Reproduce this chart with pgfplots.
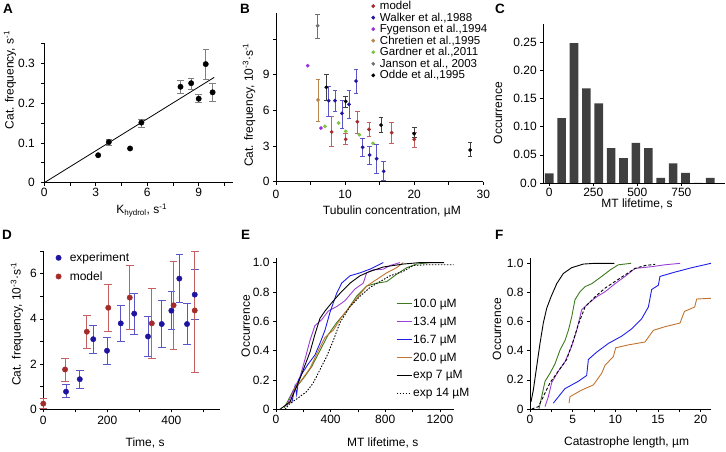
\documentclass[border=0pt]{standalone}
\usepackage{fontspec}
\setmainfont{Liberation Sans}
\usepackage{pgfplots}
\pgfplotsset{compat=1.18}
\definecolor{mred}{HTML}{A52A2A}
\definecolor{mrederr}{HTML}{C46060}
\definecolor{wblue}{HTML}{1F14A0}
\definecolor{wblueerr}{HTML}{5A55C8}
\definecolor{fpurple}{HTML}{9B30E0}
\definecolor{cbrown}{HTML}{B8864B}
\definecolor{ggreen}{HTML}{7DC242}
\definecolor{jgray}{HTML}{707070}
\definecolor{cbar}{HTML}{404040}
\definecolor{lgreen}{HTML}{3D7A1E}
\definecolor{lpurple}{HTML}{9A40D8}
\definecolor{lblue}{HTML}{1E1EE8}
\definecolor{lorange}{HTML}{C2732E}
\newcommand{\lf}{\fontsize{11.5}{12}\selectfont}
\begin{document}
\begin{tikzpicture}
\useasboundingbox (0pt,0pt) rectangle (726pt,452pt);
\pgfplotsset{
 every axis/.append style={
  scale only axis, anchor=south west, axis lines=left,
  axis line style={-,line width=0.6pt,black},
  tick align=outside, major tick length=3pt, minor tick length=3pt,
  tick style={black,line width=0.6pt},
  tick label style={font=\fontsize{12}{12}\selectfont},
  label style={font=\fontsize{12}{14}\selectfont},
  /pgf/number format/assume math mode=true,
  /pgf/number format/1000 sep={},
  clip=false,
  xlabel style={anchor=center}, ylabel style={anchor=center},
 },
}
% panel letters
\tikzset{plab/.style={anchor=base west,font=\bfseries\fontsize{13.5}{13.5}\selectfont,inner sep=0}}
\node[plab] at (3pt,438pt) {A};
\node[plab] at (240pt,438pt) {B};
\node[plab] at (495pt,438pt) {C};
\node[plab] at (2pt,212pt) {D};
\node[plab] at (241pt,212pt) {E};
\node[plab] at (495pt,212pt) {F};

% ---------------- A
\begin{axis}[at={(44.3pt,269.3pt)}, width=188.7pt, height=139.3pt,
 xmin=0, xmax=11, ymin=0, ymax=0.35,
 xtick={0,3,6,9}, minor xtick={1.5,4.5,7.5,10.5},
 ytick={0,0.1,0.2,0.3}, minor ytick={0.05,0.15,0.25,0.35},
 yticklabels={0,0.1,0.2,0.3},
 xticklabel style={inner sep=2.5pt},
 yticklabel style={xshift=-3pt},
 xlabel={K\textsubscript{hydrol}, s\textsuperscript{-1}},
 ylabel={Cat. frequency, s\textsuperscript{-1}},
 xlabel style={at={(axis description cs:0.516,-0.2)}},
 ylabel style={at={(axis description cs:-0.182,0.737)}}]
\addplot[black, line width=0.8pt] coordinates {(0,0) (9.9,0.2645)};
\addplot[only marks, mark=*, mark size=2.7pt, black,
 error bars/.cd, y dir=both, y explicit,
 error bar style={gray, line width=0.6pt},
 error mark options={rotate=90, mark size=3.2pt, gray, line width=0.6pt}]
 table[x=x,y=y,y error plus=ep,y error minus=em]{
x y ep em
3.76 0.102 0.008 0.008
5.66 0.151 0.009 0.011
7.94 0.241 0.017 0.017
8.56 0.250 0.013 0.015
9.00 0.211 0.010 0.010
9.41 0.298 0.038 0.039
9.81 0.227 0.023 0.023
};
\addplot[only marks, mark=*, mark size=2.7pt, black] coordinates {(3.14,0.069) (5.0,0.086)};
\end{axis}

% ---------------- B
\begin{axis}[at={(276pt,270.3pt)}, width=207.3pt, height=168.4pt,
 xmin=0, xmax=30, ymin=0, ymax=14.15,
 xtick={0,10,20,30}, minor xtick={5,15,25},
 ytick={0,3,6,9,12}, yticklabels={0,3,6,9,},
 xticklabel style={inner sep=5pt},
 xlabel={Tubulin concentration, µM},
 ylabel={Cat. frequency, 10\textsuperscript{-3}·s\textsuperscript{-1}},
 xlabel style={at={(axis description cs:0.559,-0.178)}},
 ylabel style={at={(axis description cs:-0.130,0.455)}},
 legend image code/.code={\draw[#1] plot coordinates {(0pt,0pt)}; \path (5.5pt,0pt);},
 legend cell align=left,
 legend style={draw=none, fill=none, at={(0.46,1.079)}, anchor=north west,
   inner sep=0pt, row sep=-0.3pt, font=\lf,
   nodes={inner sep=1pt}}]
\addplot[only marks, mark=*, mark size=1.7pt, mred,
 error bars/.cd, y dir=both, y explicit,
 error bar style={mrederr, line width=0.7pt},
 error mark options={rotate=90, mark size=2.3pt, mrederr, line width=0.7pt}]
 table[x=x,y=y,y error plus=ep,y error minus=em]{
x y ep em
8.06 4.18 1.34 1.24
10.08 3.56 0.53 0.39
11.77 5.04 0.84 0.97
13.46 4.40 0.56 0.59
16.74 4.12 0.87 0.89
20.0 3.56 0.62 0.70
};
\addlegendentry{model}
\addplot[only marks, mark=*, mark size=1.7pt, wblue,
 error bars/.cd, y dir=both, y explicit,
 error bar style={wblueerr, line width=0.7pt},
 error mark options={rotate=90, mark size=2.3pt, wblueerr, line width=0.7pt}]
 table[x=x,y=y,y error plus=ep,y error minus=em]{
x y ep em
7.62 6.81 1.17 1.29
8.54 6.81 0.90 0.93
9.55 5.75 1.12 1.24
10.56 6.50 1.18 1.18
11.58 8.46 0.98 1.01
12.54 2.89 0.78 0.79
13.55 2.24 0.76 0.75
14.57 1.93 1.24 1.23
15.58 0.87 0.84 0.79
};
\addlegendentry{Walker et al.,1988}
\addplot[only marks, mark=*, mark size=1.7pt, fpurple] coordinates {(4.58,9.75) (6.51,4.51)};
\addlegendentry{Fygenson et al.,1994}
\addplot[only marks, mark=*, mark size=1.7pt, cbrown,
 error bars/.cd, y dir=both, y explicit,
 error bar style={cbrown, line width=0.7pt},
 error mark options={rotate=90, mark size=2.3pt, cbrown, line width=0.7pt}]
 table[x=x,y=y,y error plus=ep,y error minus=em]{
x y ep em
6.08 6.87 1.73 1.77
};
\addlegendentry{Chretien et al.,1995}
\addplot[only marks, mark=*, mark size=1.7pt, ggreen] coordinates {(7.09,4.65) (9.07,4.93) (10.08,4.23) (12.06,3.95) (14.04,3.22)};
\addlegendentry{Gardner et al.,2011}
\addplot[only marks, mark=*, mark size=1.7pt, jgray,
 error bars/.cd, y dir=both, y explicit,
 error bar style={jgray, line width=0.7pt},
 error mark options={rotate=90, mark size=2.3pt, jgray, line width=0.7pt}]
 table[x=x,y=y,y error plus=ep,y error minus=em]{
x y ep em
6.03 13.1 1.0 1.05
};
\addlegendentry{Janson et al., 2003}
\addplot[only marks, mark=*, mark size=1.7pt, black,
 error bars/.cd, y dir=both, y explicit,
 error bar style={black!75, line width=0.7pt},
 error mark options={rotate=90, mark size=2.3pt, black!75, line width=0.7pt}]
 table[x=x,y=y,y error plus=ep,y error minus=em]{
x y ep em
7.28 7.93 1.09 1.06
10.08 6.75 0.45 0.53
15.2 4.76 0.68 0.64
20.0 4.03 0.54 0.27
28.1 2.66 0.62 0.50
};
\addlegendentry{Odde et al.,1995}
\end{axis}

% ---------------- C
\begin{axis}[at={(543.3pt,269pt)}, width=181.7pt, height=159pt,
 xmin=-34, xmax=998, ymin=0, ymax=0.282,
 xtick={0,250,500,750},
 ytick={0,0.05,0.10,0.15,0.20,0.25},
 yticklabels={0.0,0.05,0.10,0.15,0.20,0.25},
 xticklabel style={inner sep=1.5pt},
 xlabel={MT lifetime, s}, ylabel={Occurrence},
 xlabel style={at={(axis description cs:0.516,-0.13)}},
 ylabel style={at={(axis description cs:-0.249,0.44)}}]
\addplot[ybar, bar width=49, fill=cbar, draw=none] coordinates {
(0,0.017) (70.3,0.115) (140.6,0.248) (210.9,0.168) (281.2,0.141) (351.5,0.062)
(421.8,0.044) (492.1,0.071) (562.4,0.062) (632.7,0.009) (703,0.035) (773.3,0.018)
(843.6,0) (913.9,0.009)};
\end{axis}

% ---------------- D
\begin{axis}[at={(43.3pt,42.7pt)}, width=176.7pt, height=158.3pt,
 xmin=0, xmax=552, ymin=0, ymax=7,
 xtick={0,200,400}, minor xtick={100,300,500},
 ytick={0,2,4,6}, minor ytick={1,3,5,7},
 xticklabel style={inner sep=4pt},
 xlabel={Time, s},
 ylabel={Cat. frequency, 10\textsuperscript{-3}·s\textsuperscript{-1}},
 xlabel style={at={(axis description cs:0.576,-0.211)}},
 ylabel style={at={(axis description cs:-0.149,0.539)}},
 legend image code/.code={\draw[#1] plot coordinates {(0pt,0pt)}; \path (9.5pt,0pt);},
 legend cell align=left,
 legend style={draw=none, fill=none, at={(0.07,1.0)}, anchor=north west,
   inner sep=0pt, row sep=5.5pt, font=\fontsize{12}{12}\selectfont,
   nodes={inner sep=1.5pt}}]
\addplot[only marks, mark=*, mark size=2.7pt, wblue,
 error bars/.cd, y dir=both, y explicit,
 error bar style={wblueerr, line width=0.8pt},
 error mark options={rotate=90, mark size=3.8pt, wblueerr, line width=0.8pt}]
 table[x=x,y=y,y error plus=ep,y error minus=em]{
x y ep em
71 0.78 0.30 0.27
114 1.33 0.38 0.39
156 3.10 0.62 0.62
199 2.59 0.60 0.61
242 3.80 0.80 0.80
284 4.23 0.91 0.93
327 3.22 0.90 0.89
370 3.77 1.06 1.04
400 4.36 0.85 0.84
425 5.78 1.08 1.05
449 3.77 0.93 0.92
473 5.07 1.11 1.11
};
\addlegendentry{experiment}
\addplot[only marks, mark=*, mark size=2.7pt, mred,
 error bars/.cd, y dir=both, y explicit,
 error bar style={mrederr, line width=0.8pt},
 error mark options={rotate=90, mark size=3.8pt, mrederr, line width=0.8pt}]
 table[x=x,y=y,y error plus=ep,y error minus=em]{
x y ep em
0 0.25 0.21 0.22
68 1.76 0.51 0.52
136 3.43 0.74 0.73
203 4.49 1.05 1.03
270 4.94 1.41 1.42
339 3.80 1.55 1.53
407 4.60 1.95 1.97
473 4.37 2.63 2.73
};
\addlegendentry{model}
\end{axis}

% ---------------- E
\begin{axis}[at={(276pt,42.7pt)}, width=177.5pt, height=151.7pt,
 xmin=0, xmax=1300, ymin=0, ymax=1.034,
 xtick={0,400,800,1200}, minor xtick={200,600,1000},
 ytick={0,0.2,0.4,0.6,0.8,1.0}, yticklabels={0,0.2,0.4,0.6,0.8,1.0},
 xticklabel style={inner sep=2.5pt},
 xlabel={MT lifetime, s}, ylabel={Occurrence},
 xlabel style={at={(axis description cs:0.601,-0.22)}},
 ylabel style={at={(axis description cs:-0.17,0.549)}},
 legend image code/.code={\draw[#1, line width=1.1pt] (0pt,0pt) -- (15pt,0pt);},
 legend cell align=left,
 legend style={draw=none, fill=none, at={(0.675,0.735)}, anchor=north west,
   inner sep=0pt, row sep=6pt, font=\fontsize{12}{12}\selectfont,
   nodes={inner sep=1pt}}]
\addplot[lgreen, line width=0.9pt] coordinates {(60,0.01) (66,0.02) (127,0.13) (165,0.17) (200,0.21) (261,0.29) (322,0.40) (383,0.51) (444,0.59) (517,0.67) (590,0.77) (664,0.84) (737,0.86) (810,0.87) (883,0.92) (957,0.965) (1030,0.99) (1127,1.0)};
\addlegendentry{10.0 µM}
\addplot[lpurple, line width=0.9pt] coordinates {(78,0.02) (127,0.13) (176,0.22) (212,0.34) (249,0.47) (285,0.57) (334,0.61) (383,0.67) (444,0.70) (505,0.74) (578,0.82) (639,0.86) (664,0.93) (712,0.95) (786,0.955) (835,0.98) (908,1.0)};
\addlegendentry{13.4 µM}
\addplot[lblue, line width=0.9pt] coordinates {(115,0.04) (140,0.16) (151,0.10) (165,0.20) (188,0.24) (237,0.31) (285,0.37) (322,0.45) (359,0.54) (395,0.66) (444,0.79) (481,0.86) (542,0.91) (615,0.93) (688,0.955) (786,1.0)};
\addlegendentry{16.7 µM}
\addplot[lorange, line width=0.9pt] coordinates {(102,0.04) (139,0.15) (188,0.2) (249,0.28) (310,0.40) (359,0.49) (420,0.54) (481,0.63) (542,0.70) (603,0.77) (664,0.84) (737,0.885) (810,0.93) (883,0.965) (932,1.0)};
\addlegendentry{20.0 µM}
\addplot[black, line width=0.9pt] coordinates {(29,0) (102,0.05) (139,0.13) (176,0.21) (212,0.30) (249,0.39) (285,0.51) (322,0.62) (359,0.67) (407,0.725) (468,0.79) (542,0.86) (615,0.91) (688,0.94) (786,0.97) (932,0.99) (1054,1.0) (1232,1.0)};
\addlegendentry{exp 7 µM}
\addplot[black, line width=0.9pt, dash pattern=on 1.5pt off 1.5pt] coordinates {(66,0) (102,0.04) (151,0.07) (224,0.12) (273,0.18) (322,0.27) (371,0.36) (420,0.47) (468,0.59) (542,0.70) (615,0.77) (688,0.83) (761,0.87) (835,0.91) (932,0.94) (1005,0.98) (1100,0.985) (1300,0.985)};
\addlegendentry{exp 14 µM}
\end{axis}

% ---------------- F
\begin{axis}[at={(530pt,43pt)}, width=180.9pt, height=151.2pt,
 xmin=0, xmax=21.2, ymin=0, ymax=1.038,
 xtick={0,5,10,15,20}, minor xtick={2.5,7.5,12.5,17.5},
 ytick={0,0.2,0.4,0.6,0.8,1.0}, yticklabels={0,0.2,0.4,0.6,0.8,1.0},
 xticklabel style={inner sep=3pt},
 xlabel={Catastrophe length, µm}, ylabel={Occurrence},
 xlabel style={at={(axis description cs:0.534,-0.223)}},
 ylabel style={at={(axis description cs:-0.182,0.529)}}]
\addplot[black, line width=0.9pt] coordinates {(0.12,0.05) (0.39,0.13) (0.78,0.29) (1.17,0.45) (1.56,0.59) (1.95,0.69) (2.46,0.77) (3.13,0.86) (3.9,0.93) (4.88,0.97) (6.25,0.995) (7.6,1.0) (9.9,1.0)};
\addplot[lgreen, line width=0.9pt] coordinates {(1.05,0) (1.37,0.085) (1.76,0.19) (2.34,0.245) (2.93,0.31) (3.52,0.405) (4.1,0.47) (4.5,0.54) (4.88,0.63) (5.27,0.75) (5.86,0.805) (6.45,0.84) (7.23,0.86) (8.4,0.91) (9.4,0.955) (10.35,0.99) (11.84,1.0)};
\addplot[lpurple, line width=0.9pt] coordinates {(1.76,0.016) (2.15,0.085) (2.54,0.18) (3.32,0.26) (4.1,0.325) (4.88,0.43) (5.47,0.54) (6.05,0.68) (6.84,0.725) (7.81,0.77) (8.8,0.805) (9.96,0.86) (11.13,0.91) (12.3,0.965) (14.26,0.977) (15.8,0.99) (17.6,1.0)};
\addplot[black, line width=0.9pt, dash pattern=on 3pt off 2pt] coordinates {(0.2,0) (0.98,0.016) (1.56,0.085) (2.34,0.18) (3.32,0.26) (4.3,0.34) (5.08,0.47) (5.66,0.58) (6.45,0.70) (7.62,0.77) (8.8,0.83) (9.96,0.875) (11.13,0.92) (12.3,0.965) (13.5,0.985) (14.65,0.993)};
\addplot[lblue, line width=0.9pt] coordinates {(2.73,0.04) (4.1,0.14) (5.66,0.19) (6.64,0.23) (6.84,0.34) (7.81,0.39) (9.18,0.45) (10.74,0.5) (11.91,0.55) (13.09,0.62) (13.87,0.70) (14.26,0.82) (15.04,0.85) (15.23,0.91) (17.0,0.94) (18.95,0.97) (21.2,1.0)};
\addplot[lorange, line width=0.9pt] coordinates {(4.57,0.04) (4.69,0.085) (6.05,0.13) (7.42,0.165) (8.4,0.245) (8.79,0.3) (9.77,0.36) (10.04,0.42) (11.52,0.44) (13.48,0.46) (14.45,0.54) (15.82,0.565) (17.58,0.59) (18.1,0.67) (19.3,0.70) (19.53,0.755) (21.2,0.76)};
\end{axis}
\end{tikzpicture}
\end{document}
